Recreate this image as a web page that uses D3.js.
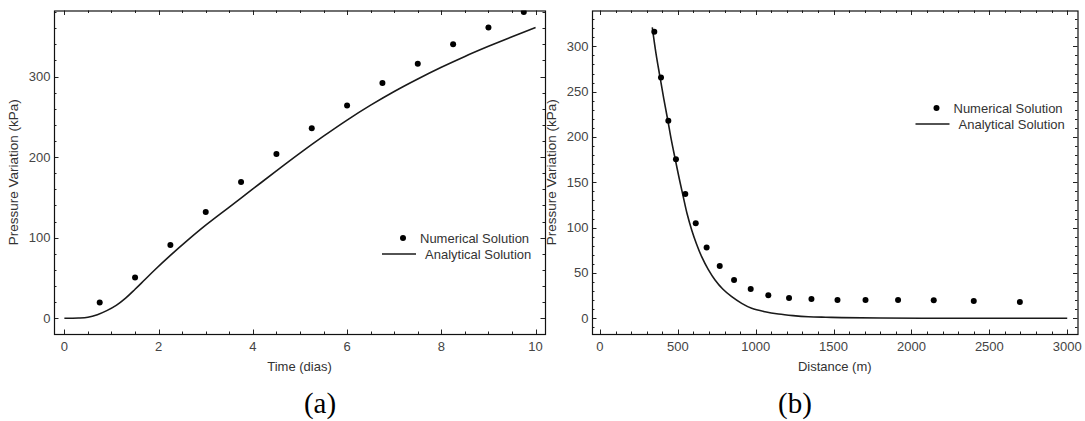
<!DOCTYPE html>
<html>
<head>
<meta charset="utf-8">
<script src="https://cdn.jsdelivr.net/npm/d3@7"></script>
<style>
  body { margin: 0; background: #fff; }
</style>
</head>
<body>
<div id="chart"></div>
<script>
// ---- data ----
// (a) pressure vs time
var timeNum = [0.75, 1.5, 2.25, 3.0, 3.75, 4.5, 5.25, 6.0, 6.75, 7.5, 8.25, 9.0, 9.75];
var presNumA = [19.5, 50.5, 91, 132, 169, 204, 236, 264, 292, 316, 340, 361, 380];
var timeAna = [0, 0.3, 0.5, 0.7, 0.9, 1.1, 1.3, 1.5, 1.7, 1.9, 2.25, 2.6, 3.0, 3.5, 4.0, 4.5, 5.0, 5.5, 6.0, 6.5, 7.0, 7.5, 8.0, 8.5, 9.0, 9.5, 10.0];
var presAnaA = [0, 0.3, 1.3, 4.5, 9.5, 16, 25, 36, 47.5, 59, 78, 96, 115.5, 138, 160.5, 183, 205, 226, 246, 264.5, 281.5, 297, 311.5, 325, 337.5, 349.5, 361];

// (b) pressure vs distance
var distNum = [349, 392, 439, 488, 548, 615, 685, 769, 861, 968, 1081, 1214, 1358, 1525, 1705, 1914, 2143, 2400, 2696];
var presNumB = [316, 265.6, 217.8, 175.5, 137, 104.8, 78, 57.7, 42.3, 32.3, 25.4, 22.4, 21.3, 20.2, 20.2, 20.2, 20, 19.1, 18];
var distAna = [336, 360, 385, 410, 435, 458, 482, 508, 535, 560, 589, 620, 653, 695, 739, 790, 846, 910, 974, 1060, 1146, 1240, 1338, 1450, 1553, 1800, 2200, 2600, 3000];
var presAnaB = [321, 292, 266.7, 242, 219, 197, 176.6, 155, 134, 115, 97.5, 82, 68, 54, 42.3, 32, 23.8, 16.5, 11, 7.2, 4.7, 3, 1.8, 1.2, 0.8, 0.3, 0.1, 0, 0];

var xTicksA = [0, 2, 4, 6, 8, 10];
var yTicksA = [0, 100, 200, 300];
var xTicksB = [0, 500, 1000, 1500, 2000, 2500, 3000];
var yTicksB = [0, 50, 100, 150, 200, 250, 300];

var seriesNames = ["Numerical Solution", "Analytical Solution"];

var sans = "'Liberation Sans', Arial, sans-serif";

var svg = d3.select("#chart").append("svg")
  .attr("width", 1085)
  .attr("height", 421);

// draws one framed panel (Mathematica style frame with inward ticks)
function drawPanel(cfg) {
  var x = d3.scaleLinear().domain(cfg.xDomain).range([cfg.left, cfg.right]);
  var y = d3.scaleLinear().domain(cfg.yDomain).range([cfg.bottom, cfg.top]);
  var g = svg.append("g").style("font-family", sans);

  var clipId = "clip-" + cfg.id;
  g.append("clipPath").attr("id", clipId)
    .append("rect")
    .attr("x", cfg.left).attr("y", cfg.top)
    .attr("width", cfg.right - cfg.left).attr("height", cfg.bottom - cfg.top);

  // minor + major ticks, all four sides
  var xMinor = d3.range(Math.ceil(cfg.xDomain[0] / cfg.xMinorStep) * cfg.xMinorStep, cfg.xDomain[1], cfg.xMinorStep);
  var yMinor = d3.range(Math.ceil(cfg.yDomain[0] / cfg.yMinorStep) * cfg.yMinorStep, cfg.yDomain[1], cfg.yMinorStep);

  var tk = g.append("g").attr("stroke", "#222").attr("stroke-width", 1);
  xMinor.forEach(function(v) {
    var major = cfg.xTicks.indexOf(Math.round(v * 1000) / 1000) >= 0;
    var len = major ? 4.5 : 2.5;
    var px = Math.round(x(v)) + 0.5;
    tk.append("line").attr("x1", px).attr("x2", px).attr("y1", cfg.bottom).attr("y2", cfg.bottom - len);
    tk.append("line").attr("x1", px).attr("x2", px).attr("y1", cfg.top).attr("y2", cfg.top + len);
  });
  yMinor.forEach(function(v) {
    var major = cfg.yTicks.indexOf(Math.round(v)) >= 0;
    var len = major ? 4.5 : 2.5;
    var py = Math.round(y(v)) + 0.5;
    tk.append("line").attr("x1", cfg.left).attr("x2", cfg.left + len).attr("y1", py).attr("y2", py);
    tk.append("line").attr("x1", cfg.right).attr("x2", cfg.right - len).attr("y1", py).attr("y2", py);
  });

  // frame
  g.append("rect")
    .attr("x", cfg.left + 0.5).attr("y", cfg.top + 0.5)
    .attr("width", cfg.right - cfg.left).attr("height", cfg.bottom - cfg.top)
    .attr("fill", "none").attr("stroke", "#111").attr("stroke-width", 1.2);

  // tick labels
  g.append("g").selectAll("text").data(cfg.xTicks).enter().append("text")
    .attr("x", function(d) { return x(d); })
    .attr("y", cfg.bottom + 16.5)
    .attr("text-anchor", "middle")
    .attr("font-size", "13px")
    .attr("fill", "#444")
    .text(function(d) { return d; });
  g.append("g").selectAll("text").data(cfg.yTicks).enter().append("text")
    .attr("x", cfg.left - 3.5)
    .attr("y", function(d) { return y(d) + 4.5; })
    .attr("text-anchor", "end")
    .attr("font-size", "13px")
    .attr("fill", "#444")
    .text(function(d) { return d; });

  // axis labels
  g.append("text")
    .attr("x", (cfg.left + cfg.right) / 2)
    .attr("y", cfg.bottom + 37)
    .attr("text-anchor", "middle")
    .attr("font-size", "13px")
    .attr("fill", "#333")
    .text(cfg.xLabel);
  g.append("text")
    .attr("transform", "translate(" + cfg.yLabelX + "," + ((cfg.top + cfg.bottom) / 2) + ") rotate(-90)")
    .attr("text-anchor", "middle")
    .attr("font-size", "13.5px")
    .attr("fill", "#333")
    .text("Pressure Variation (kPa)");

  // analytical line
  var line = d3.line()
    .x(function(d) { return x(d[0]); })
    .y(function(d) { return y(d[1]); })
    .curve(d3.curveCatmullRom.alpha(0.5));
  g.append("path")
    .datum(d3.zip(cfg.anaX, cfg.anaY))
    .attr("clip-path", "url(#" + clipId + ")")
    .attr("d", line)
    .attr("fill", "none")
    .attr("stroke", "#1a1a1a")
    .attr("stroke-width", 1.6);

  // numerical points
  g.append("g").attr("clip-path", "url(#" + clipId + ")")
    .selectAll("circle").data(d3.zip(cfg.numX, cfg.numY)).enter().append("circle")
    .attr("cx", function(d) { return x(d[0]); })
    .attr("cy", function(d) { return y(d[1]); })
    .attr("r", 3)
    .attr("fill", "#000");

  // legend
  var lg = cfg.legend;
  g.append("circle").attr("cx", lg.dotX).attr("cy", lg.dotY).attr("r", 3).attr("fill", "#000");
  g.append("text").attr("x", lg.dotX + 17).attr("y", lg.dotY + 4.5)
    .attr("font-size", "13px").attr("fill", "#333").text(seriesNames[0]);
  g.append("line")
    .attr("x1", lg.lineX).attr("x2", lg.lineX + 34)
    .attr("y1", lg.dotY + 16).attr("y2", lg.dotY + 16)
    .attr("stroke", "#1a1a1a").attr("stroke-width", 1.6);
  g.append("text").attr("x", lg.lineX + 43).attr("y", lg.dotY + 20.5)
    .attr("font-size", "13px").attr("fill", "#333").text(seriesNames[1]);

  // panel caption
  svg.append("text")
    .attr("x", cfg.captionX).attr("y", 413)
    .attr("text-anchor", "middle")
    .style("font-family", "'Liberation Serif', 'Times New Roman', serif")
    .attr("font-size", "29px")
    .attr("fill", "#000")
    .text(cfg.caption);
}

drawPanel({
  id: "a",
  left: 54, right: 545, top: 10.5, bottom: 334,
  xDomain: [-0.22, 10.2], yDomain: [-19.5, 382],
  xTicks: xTicksA, yTicks: yTicksA, xMinorStep: 0.5, yMinorStep: 20,
  xLabel: "Time (dias)", yLabelX: 18,
  numX: timeNum, numY: presNumA, anaX: timeAna, anaY: presAnaA,
  legend: { dotX: 403, dotY: 238, lineX: 382 },
  caption: "(a)", captionX: 320
});

drawPanel({
  id: "b",
  left: 592, right: 1077.5, top: 10.5, bottom: 334,
  xDomain: [-51, 3066], yDomain: [-17.3, 339.5],
  xTicks: xTicksB, yTicks: yTicksB, xMinorStep: 100, yMinorStep: 10,
  xLabel: "Distance (m)", yLabelX: 556,
  numX: distNum, numY: presNumB, anaX: distAna, anaY: presAnaB,
  legend: { dotX: 936.5, dotY: 108, lineX: 915.5 },
  caption: "(b)", captionX: 795
});
</script>
</body>
</html>
